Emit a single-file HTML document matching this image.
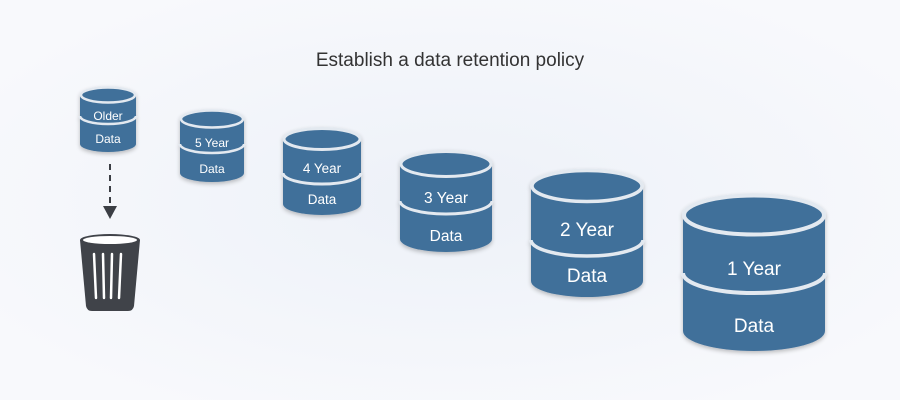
<!DOCTYPE html>
<html><head><meta charset="utf-8"><style>
html,body{margin:0;padding:0;width:900px;height:400px;overflow:hidden;background:#f7f9fc}
svg{display:block}
text{font-family:"Liberation Sans","DejaVu Sans",sans-serif;fill:#fff;text-anchor:middle}
</style></head><body>
<svg width="900" height="400" viewBox="0 0 900 400" xmlns="http://www.w3.org/2000/svg">
<defs>
<radialGradient id="bg" cx="50%" cy="50%" r="60%">
<stop offset="0" stop-color="#edf1f8"/><stop offset="1" stop-color="#f8f9fc"/>
</radialGradient>
<filter id="sh" x="-20%" y="-20%" width="140%" height="150%"><feGaussianBlur in="SourceAlpha" stdDeviation="2"/><feOffset dy="2"/><feComponentTransfer><feFuncA type="linear" slope="0.25"/></feComponentTransfer><feMerge><feMergeNode/><feMergeNode in="SourceGraphic"/></feMerge></filter>
</defs>
<rect width="900" height="400" fill="url(#bg)"/>
<text x="450" y="66" style="fill:#333;font-size:19px">Establish a data retention policy</text>

<!-- generic cylinders -->
<g filter="url(#sh)">
<!-- Older -->
<path d="M80 95 A28 8 0 0 1 136 95 V144 A28 8 0 0 1 80 144 Z" fill="#41709a"/>
<ellipse cx="108" cy="95" rx="27" ry="7.5" fill="#41709a" stroke="#e3e9f0" stroke-width="2.5"/>
<path d="M80 116 A28 8 0 0 0 136 116" fill="none" stroke="#e3e9f0" stroke-width="2.5"/>
</g>
<text x="108" y="120" font-size="12">Older</text>
<text x="108" y="143" font-size="12">Data</text>

<g filter="url(#sh)">
<path d="M180 119 A32 9 0 0 1 244 119 V173 A32 9 0 0 1 180 173 Z" fill="#41709a"/>
<ellipse cx="212" cy="119" rx="31" ry="8.5" fill="#41709a" stroke="#e3e9f0" stroke-width="2.5"/>
<path d="M180 144 A32 9 0 0 0 244 144" fill="none" stroke="#e3e9f0" stroke-width="2.5"/>
</g>
<text x="212" y="147" font-size="12">5 Year</text>
<text x="212" y="173" font-size="12">Data</text>

<g filter="url(#sh)">
<path d="M283 139 A39 11 0 0 1 361 139 V204 A39 11 0 0 1 283 204 Z" fill="#41709a"/>
<ellipse cx="322" cy="139" rx="38" ry="10.5" fill="#41709a" stroke="#e3e9f0" stroke-width="3"/>
<path d="M283 173 A39 11 0 0 0 361 173" fill="none" stroke="#e3e9f0" stroke-width="3"/>
</g>
<text x="322" y="173" font-size="13.5">4 Year</text>
<text x="322" y="204" font-size="13.5">Data</text>

<g filter="url(#sh)">
<path d="M400 164 A46 13 0 0 1 492 164 V239 A46 13 0 0 1 400 239 Z" fill="#41709a"/>
<ellipse cx="446" cy="164" rx="45" ry="12.5" fill="#41709a" stroke="#e3e9f0" stroke-width="3"/>
<path d="M400 201 A46 13 0 0 0 492 201" fill="none" stroke="#e3e9f0" stroke-width="3"/>
</g>
<text x="446" y="203" font-size="15.5">3 Year</text>
<text x="446" y="241" font-size="15.5">Data</text>

<g filter="url(#sh)">
<path d="M531 186 A56 16 0 0 1 643 186 V281 A56 16 0 0 1 531 281 Z" fill="#41709a"/>
<ellipse cx="587" cy="186" rx="55" ry="15.5" fill="#41709a" stroke="#e3e9f0" stroke-width="3.5"/>
<path d="M531 240 A56 16 0 0 0 643 240" fill="none" stroke="#e3e9f0" stroke-width="3.5"/>
</g>
<text x="587" y="236" font-size="19">2 Year</text>
<text x="587" y="282" font-size="19">Data</text>

<g filter="url(#sh)">
<path d="M683 215 A71 20 0 0 1 825 215 V331 A71 20 0 0 1 683 331 Z" fill="#41709a"/>
<ellipse cx="754" cy="215" rx="70" ry="19.5" fill="#41709a" stroke="#e3e9f0" stroke-width="4"/>
<path d="M683 273 A71 20 0 0 0 825 273" fill="none" stroke="#e3e9f0" stroke-width="4"/>
</g>
<text x="754" y="275" font-size="19">1 Year</text>
<text x="754" y="332" font-size="19">Data</text>

<!-- arrow -->
<line x1="110" y1="164" x2="110" y2="207" stroke="#3b3e44" stroke-width="2" stroke-dasharray="6,5"/>
<path d="M103 206 L117 206 L110 219 Z" fill="#3b3e44"/>

<!-- trash -->
<path d="M80 240 L140 240 L134 306 Q133 311 128 311 L92 311 Q87 311 86 306 Z" fill="#404349"/>
<ellipse cx="110" cy="240" rx="30" ry="6" fill="#404349"/>
<ellipse cx="110" cy="240" rx="27" ry="4" fill="#fff"/>
<g stroke="#fff" stroke-width="2.5" stroke-linecap="round">
<line x1="94" y1="254" x2="96" y2="298"/>
<line x1="103" y1="254" x2="104" y2="298"/>
<line x1="112" y1="254" x2="111" y2="298"/>
<line x1="121" y1="254" x2="119" y2="298"/>
</g>
</svg>
</body></html>
